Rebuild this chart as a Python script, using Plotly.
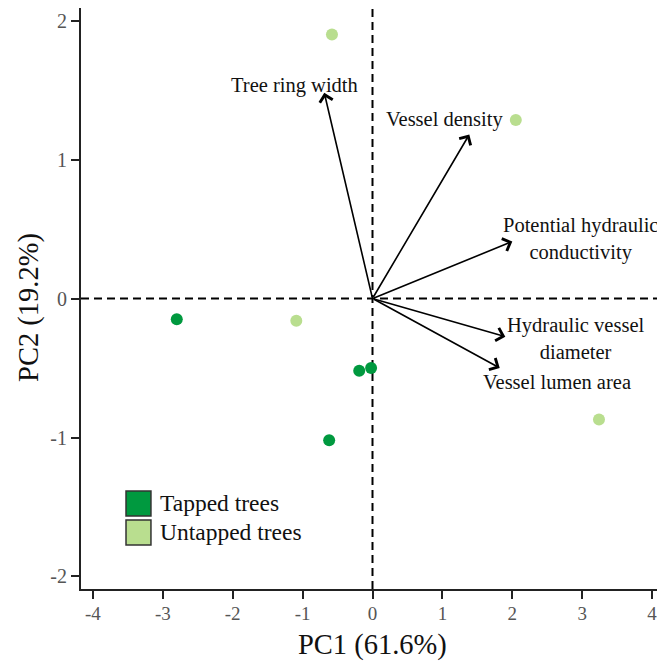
import plotly.graph_objects as go

# Scores
tapped_x = [-2.80, -0.62, -0.19, -0.02]
tapped_y = [-0.15, -1.02, -0.52, -0.50]
untapped_x = [-1.09, -0.58, 2.05, 3.24]
untapped_y = [-0.16, 1.90, 1.285, -0.87]

# Loadings (arrow tips)
var_names = ["Tree ring width", "Vessel density", "Potential hydraulic<br>conductivity",
             "Hydraulic vessel<br>diameter", "Vessel lumen area"]
load_x = [-0.69, 1.385, 2.00, 1.90, 1.82]
load_y = [1.48, 1.18, 0.41, -0.275, -0.50]
label_x = [-1.11, 1.03, 2.97, 2.91, 2.635]
label_y = [1.53, 1.285, 0.43, -0.29, -0.60]

x_ticks = [-4, -3, -2, -1, 0, 1, 2, 3, 4]
y_ticks = [-2, -1, 0, 1, 2]

DARK = "#00993f"
LIGHT = "#b9de8f"
FONT = "Liberation Serif"

fig = go.Figure()
fig.add_trace(go.Scatter(x=tapped_x, y=tapped_y, mode="markers", name="Tapped trees",
                         marker=dict(color=DARK, size=12), showlegend=False))
fig.add_trace(go.Scatter(x=untapped_x, y=untapped_y, mode="markers", name="Untapped trees",
                         marker=dict(color=LIGHT, size=12), showlegend=False))

shapes = [
    dict(type="line", xref="x", yref="paper", x0=0, x1=0, y0=0, y1=1,
         line=dict(color="black", width=2, dash="8px,5px"), layer="below"),
    dict(type="line", xref="paper", yref="y", x0=0, x1=1, y0=0, y1=0,
         line=dict(color="black", width=2, dash="8px,5px"), layer="below"),
    dict(type="rect", xref="paper", yref="paper", x0=0.0772, x1=0.120, y0=0.1256, y1=0.1687,
         fillcolor=DARK, line=dict(color="#333", width=1.5)),
    dict(type="rect", xref="paper", yref="paper", x0=0.0772, x1=0.120, y0=0.0757, y1=0.1188,
         fillcolor=LIGHT, line=dict(color="#333", width=1.5)),
]

annotations = []
for lx, ly in zip(load_x, load_y):
    annotations.append(dict(x=lx, y=ly, ax=0, ay=0, xref="x", yref="y", axref="x", ayref="y",
                            text="", showarrow=True, arrowhead=4, arrowsize=1.6,
                            arrowwidth=1.6, arrowcolor="black", standoff=0))
for name, tx, ty in zip(var_names, label_x, label_y):
    annotations.append(dict(x=tx, y=ty, xref="x", yref="y", text=name, showarrow=False,
                            font=dict(family=FONT, size=20.5, color="#111"), align="center"))

annotations += [
    dict(x=0.132, y=0.148, xref="paper", yref="paper", text="Tapped trees", showarrow=False,
         xanchor="left", yanchor="middle", font=dict(family=FONT, size=23.5, color="#111")),
    dict(x=0.132, y=0.098, xref="paper", yref="paper", text="Untapped trees", showarrow=False,
         xanchor="left", yanchor="middle", font=dict(family=FONT, size=23.5, color="#111")),
    dict(x=0.5, y=-0.0964, xref="paper", yref="paper", text="PC1 (61.6%)", showarrow=False,
         xanchor="center", yanchor="middle", font=dict(family=FONT, size=28.5, color="#111")),
    dict(x=-0.088, y=0.485, xref="paper", yref="paper", text="PC2 (19.2%)", showarrow=False,
         textangle=-90, xanchor="center", yanchor="middle",
         font=dict(family=FONT, size=28.5, color="#111")),
]

fig.update_layout(
    width=657, height=657,
    margin=dict(l=73, r=1, t=0, b=76),
    plot_bgcolor="white", paper_bgcolor="white",
    shapes=shapes, annotations=annotations, showlegend=False,
    font=dict(family=FONT),
)
fig.update_xaxes(range=[-4.17, 4.17], tickvals=x_ticks, ticktext=[str(v) for v in x_ticks],
                 showgrid=False, zeroline=False, showline=True, linecolor="#222", linewidth=2,
                 ticks="outside", ticklen=8, tickwidth=2, tickcolor="#222",
                 ticklabelstandoff=-2,
                 tickfont=dict(family=FONT, size=19, color="#555"))
fig.update_yaxes(range=[-2.09, 2.09], tickvals=y_ticks, ticktext=[str(v) for v in y_ticks],
                 showgrid=False, zeroline=False, showline=True, linecolor="#222", linewidth=2,
                 ticks="outside", ticklen=8, tickwidth=2, tickcolor="#222",
                 tickfont=dict(family=FONT, size=20, color="#555"))

fig.write_html("out.html")
